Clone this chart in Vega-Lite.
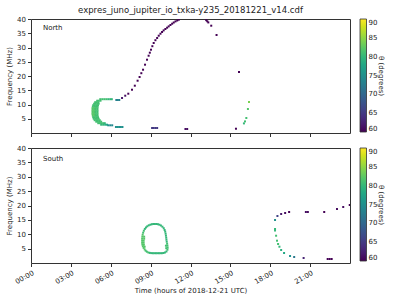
{
  "$schema": "https://vega.github.io/schema/vega-lite/v6.json",
  "padding": {"left": 5, "top": 5, "right": 5, "bottom": 2},
  "config": {
    "font": "DejaVu Sans",
    "view": {"stroke": "#333", "strokeWidth": 1},
    "axis": {"labelFont": "DejaVu Sans", "titleFont": "DejaVu Sans", "labelFontSize": 7, "titleFontSize": 7, "titleFontWeight": "normal", "labelColor": "#222", "titleColor": "#222", "tickColor": "#333", "tickSize": 3.5, "grid": false, "domain": false, "labelPadding": 2, "titlePadding": 4, "labelOverlap": false},
    "legend": {"gradientLength": 113, "gradientThickness": 6.5, "labelFontSize": 7, "titleFontSize": 7, "titleFontWeight": "normal", "labelColor": "#222", "titleColor": "#222", "offset": 10, "labelOffset": 4, "labelOverlap": false, "gradientStrokeColor": "#333", "gradientStrokeWidth": 0.8, "titleOrient": "right", "titleAngle": 270, "titlePadding": 4, "titleAnchor": "middle", "titleBaseline": "middle"}
  },
  "datasets": {
    "north": [
      {"t": 5.21, "f": 11.86, "theta": 81}, {"t": 5.36, "f": 11.86, "theta": 81}, {"t": 5.51, "f": 11.86, "theta": 81}, {"t": 5.66, "f": 11.86, "theta": 81}, {"t": 5.81, "f": 11.86, "theta": 80}, {"t": 5.96, "f": 11.86, "theta": 80}, {"t": 6.08, "f": 11.86, "theta": 80},
      {"t": 4.98, "f": 11.33, "theta": 81}, {"t": 5.10, "f": 11.33, "theta": 81}, {"t": 5.23, "f": 11.33, "theta": 81},
      {"t": 4.83, "f": 10.81, "theta": 81}, {"t": 4.95, "f": 10.81, "theta": 81}, {"t": 5.07, "f": 10.81, "theta": 81},
      {"t": 4.75, "f": 10.28, "theta": 81}, {"t": 4.87, "f": 10.28, "theta": 81}, {"t": 4.99, "f": 10.28, "theta": 81}, {"t": 5.09, "f": 10.28, "theta": 81},
      {"t": 4.68, "f": 9.75, "theta": 81}, {"t": 4.80, "f": 9.75, "theta": 81}, {"t": 4.92, "f": 9.75, "theta": 81}, {"t": 5.04, "f": 9.75, "theta": 81},
      {"t": 4.65, "f": 9.23, "theta": 81}, {"t": 4.77, "f": 9.23, "theta": 81}, {"t": 4.89, "f": 9.23, "theta": 81}, {"t": 5.01, "f": 9.23, "theta": 81},
      {"t": 4.63, "f": 8.70, "theta": 82}, {"t": 4.75, "f": 8.70, "theta": 82}, {"t": 4.87, "f": 8.70, "theta": 81}, {"t": 5.00, "f": 8.70, "theta": 81},
      {"t": 4.63, "f": 8.18, "theta": 82}, {"t": 4.75, "f": 8.18, "theta": 82}, {"t": 4.87, "f": 8.18, "theta": 81}, {"t": 5.00, "f": 8.18, "theta": 81},
      {"t": 4.63, "f": 7.65, "theta": 82}, {"t": 4.75, "f": 7.65, "theta": 82}, {"t": 4.87, "f": 7.65, "theta": 81}, {"t": 5.00, "f": 7.65, "theta": 81},
      {"t": 4.63, "f": 7.12, "theta": 82}, {"t": 4.75, "f": 7.12, "theta": 82}, {"t": 4.87, "f": 7.12, "theta": 81}, {"t": 5.00, "f": 7.12, "theta": 81},
      {"t": 4.63, "f": 6.60, "theta": 82}, {"t": 4.75, "f": 6.60, "theta": 82}, {"t": 4.87, "f": 6.60, "theta": 81}, {"t": 5.00, "f": 6.60, "theta": 81},
      {"t": 4.65, "f": 6.07, "theta": 82}, {"t": 4.77, "f": 6.07, "theta": 82}, {"t": 4.89, "f": 6.07, "theta": 81}, {"t": 5.01, "f": 6.07, "theta": 81},
      {"t": 4.68, "f": 5.54, "theta": 81}, {"t": 4.80, "f": 5.54, "theta": 81}, {"t": 4.92, "f": 5.54, "theta": 81}, {"t": 5.04, "f": 5.54, "theta": 81},
      {"t": 4.72, "f": 5.02, "theta": 81}, {"t": 4.84, "f": 5.02, "theta": 81}, {"t": 4.96, "f": 5.02, "theta": 81}, {"t": 5.09, "f": 5.02, "theta": 81},
      {"t": 4.79, "f": 4.49, "theta": 81}, {"t": 4.91, "f": 4.49, "theta": 81}, {"t": 5.03, "f": 4.49, "theta": 81}, {"t": 5.17, "f": 4.49, "theta": 81},
      {"t": 4.91, "f": 3.97, "theta": 81}, {"t": 5.03, "f": 3.97, "theta": 81}, {"t": 5.15, "f": 3.97, "theta": 81}, {"t": 5.28, "f": 3.97, "theta": 81},
      {"t": 5.06, "f": 3.44, "theta": 81}, {"t": 5.18, "f": 3.44, "theta": 81}, {"t": 5.30, "f": 3.44, "theta": 81}, {"t": 5.43, "f": 3.44, "theta": 81}, {"t": 5.55, "f": 3.44, "theta": 80},
      {"t": 5.28, "f": 2.91, "theta": 80}, {"t": 5.43, "f": 2.91, "theta": 80}, {"t": 5.58, "f": 2.91, "theta": 79}, {"t": 5.72, "f": 2.91, "theta": 78},
      {"t": 5.81, "f": 2.70, "theta": 75}, {"t": 5.96, "f": 2.70, "theta": 74}, {"t": 6.11, "f": 2.70, "theta": 74},
      {"t": 6.42, "f": 11.58, "theta": 73}, {"t": 6.53, "f": 11.58, "theta": 73}, {"t": 6.64, "f": 11.58, "theta": 73},
      {"t": 6.39, "f": 2.11, "theta": 75}, {"t": 6.51, "f": 2.11, "theta": 75}, {"t": 6.63, "f": 2.11, "theta": 75}, {"t": 6.76, "f": 2.11, "theta": 75}, {"t": 6.88, "f": 2.11, "theta": 75},
      {"t": 6.85, "f": 12.28, "theta": 62}, {"t": 7.09, "f": 13.09, "theta": 61}, {"t": 7.32, "f": 13.79, "theta": 60}, {"t": 7.60, "f": 15.19, "theta": 60}, {"t": 7.81, "f": 16.60, "theta": 60},
      {"t": 8.02, "f": 18.35, "theta": 60}, {"t": 8.17, "f": 19.65, "theta": 60}, {"t": 8.30, "f": 20.98, "theta": 60}, {"t": 8.43, "f": 22.21, "theta": 60}, {"t": 8.58, "f": 23.97, "theta": 60},
      {"t": 8.73, "f": 25.72, "theta": 60}, {"t": 8.85, "f": 27.12, "theta": 60}, {"t": 8.94, "f": 28.18, "theta": 60}, {"t": 9.03, "f": 29.23, "theta": 60}, {"t": 9.13, "f": 30.46, "theta": 60},
      {"t": 9.23, "f": 31.58, "theta": 60}, {"t": 9.36, "f": 32.56, "theta": 60}, {"t": 9.49, "f": 33.34, "theta": 60}, {"t": 9.61, "f": 34.14, "theta": 60}, {"t": 9.74, "f": 34.84, "theta": 60},
      {"t": 9.86, "f": 35.44, "theta": 60}, {"t": 9.98, "f": 36.00, "theta": 60}, {"t": 10.11, "f": 36.49, "theta": 60}, {"t": 10.24, "f": 36.95, "theta": 60}, {"t": 10.36, "f": 37.41, "theta": 60},
      {"t": 10.49, "f": 37.90, "theta": 60}, {"t": 10.62, "f": 38.35, "theta": 60}, {"t": 10.74, "f": 38.77, "theta": 60}, {"t": 10.87, "f": 39.16, "theta": 60}, {"t": 11.00, "f": 39.48, "theta": 60},
      {"t": 11.12, "f": 39.76, "theta": 60},
      {"t": 13.18, "f": 39.60, "theta": 60}, {"t": 13.26, "f": 39.20, "theta": 60}, {"t": 13.34, "f": 38.80, "theta": 60}, {"t": 13.56, "f": 37.65, "theta": 60}, {"t": 13.96, "f": 34.39, "theta": 60}, {"t": 15.65, "f": 21.40, "theta": 60},
      {"t": 9.11, "f": 1.75, "theta": 65}, {"t": 9.23, "f": 1.75, "theta": 65}, {"t": 9.36, "f": 1.75, "theta": 65}, {"t": 9.49, "f": 1.75, "theta": 65},
      {"t": 11.62, "f": 1.40, "theta": 61}, {"t": 11.75, "f": 1.40, "theta": 61}, {"t": 15.42, "f": 1.50, "theta": 60},
      {"t": 16.40, "f": 10.88, "theta": 84}, {"t": 16.32, "f": 8.42, "theta": 82}, {"t": 16.20, "f": 5.26, "theta": 81}, {"t": 16.10, "f": 4.07, "theta": 81}, {"t": 16.02, "f": 3.37, "theta": 80}
    ],
    "south": [
      {"t": 8.981, "f": 13.32, "theta": 80}, {"t": 9.094, "f": 13.49, "theta": 80}, {"t": 9.208, "f": 13.56, "theta": 80}, {"t": 9.321, "f": 13.56, "theta": 80}, {"t": 9.434, "f": 13.56, "theta": 80},
      {"t": 9.547, "f": 13.49, "theta": 80}, {"t": 9.660, "f": 13.32, "theta": 80}, {"t": 9.774, "f": 13.04, "theta": 80}, {"t": 9.887, "f": 12.63, "theta": 80}, {"t": 9.985, "f": 12.10, "theta": 80},
      {"t": 10.053, "f": 11.48, "theta": 80}, {"t": 10.098, "f": 10.89, "theta": 80}, {"t": 10.128, "f": 10.19, "theta": 80}, {"t": 10.151, "f": 9.50, "theta": 80}, {"t": 10.174, "f": 8.80, "theta": 80},
      {"t": 10.189, "f": 8.10, "theta": 80}, {"t": 10.211, "f": 7.41, "theta": 80}, {"t": 10.242, "f": 6.71, "theta": 81}, {"t": 10.264, "f": 6.02, "theta": 81}, {"t": 10.279, "f": 5.32, "theta": 81},
      {"t": 10.151, "f": 6.02, "theta": 81}, {"t": 10.174, "f": 5.15, "theta": 81},
      {"t": 10.264, "f": 4.63, "theta": 81}, {"t": 10.189, "f": 4.00, "theta": 80}, {"t": 10.075, "f": 3.65, "theta": 80}, {"t": 9.962, "f": 3.48, "theta": 80}, {"t": 9.849, "f": 3.41, "theta": 80},
      {"t": 9.736, "f": 3.41, "theta": 80}, {"t": 9.623, "f": 3.41, "theta": 80}, {"t": 9.509, "f": 3.41, "theta": 80}, {"t": 9.396, "f": 3.41, "theta": 80}, {"t": 9.283, "f": 3.41, "theta": 80},
      {"t": 9.170, "f": 3.41, "theta": 80}, {"t": 9.057, "f": 3.44, "theta": 80}, {"t": 8.943, "f": 3.51, "theta": 80}, {"t": 8.830, "f": 3.65, "theta": 81}, {"t": 8.717, "f": 3.93, "theta": 81},
      {"t": 8.626, "f": 4.28, "theta": 81}, {"t": 8.551, "f": 4.73, "theta": 82}, {"t": 8.475, "f": 5.25, "theta": 82}, {"t": 8.415, "f": 5.84, "theta": 82}, {"t": 8.377, "f": 6.43, "theta": 82},
      {"t": 8.362, "f": 7.06, "theta": 82}, {"t": 8.362, "f": 7.76, "theta": 82}, {"t": 8.362, "f": 8.45, "theta": 82}, {"t": 8.377, "f": 9.15, "theta": 82}, {"t": 8.400, "f": 9.84, "theta": 82},
      {"t": 8.438, "f": 10.54, "theta": 81}, {"t": 8.491, "f": 11.23, "theta": 81}, {"t": 8.566, "f": 11.86, "theta": 80}, {"t": 8.649, "f": 12.35, "theta": 80}, {"t": 8.747, "f": 12.76, "theta": 80},
      {"t": 8.860, "f": 13.11, "theta": 80},
      {"t": 8.475, "f": 7.76, "theta": 82}, {"t": 8.475, "f": 7.06, "theta": 82}, {"t": 8.491, "f": 6.36, "theta": 82}, {"t": 8.513, "f": 8.45, "theta": 82}, {"t": 8.551, "f": 5.67, "theta": 82}, {"t": 8.513, "f": 9.15, "theta": 82},
      {"t": 18.36, "f": 14.96, "theta": 75}, {"t": 18.36, "f": 11.83, "theta": 80}, {"t": 18.36, "f": 11.30, "theta": 80}, {"t": 18.44, "f": 9.49, "theta": 81}, {"t": 18.51, "f": 7.76, "theta": 81},
      {"t": 18.59, "f": 6.61, "theta": 81}, {"t": 18.69, "f": 5.67, "theta": 80}, {"t": 18.82, "f": 4.52, "theta": 79}, {"t": 19.04, "f": 3.48, "theta": 78}, {"t": 19.49, "f": 2.43, "theta": 75},
      {"t": 19.80, "f": 2.09, "theta": 72}, {"t": 20.51, "f": 1.74, "theta": 63},
      {"t": 22.32, "f": 1.39, "theta": 60}, {"t": 22.47, "f": 1.39, "theta": 60}, {"t": 22.62, "f": 1.39, "theta": 60},
      {"t": 18.54, "f": 16.35, "theta": 66}, {"t": 18.82, "f": 17.04, "theta": 62}, {"t": 19.12, "f": 17.39, "theta": 61}, {"t": 19.42, "f": 17.74, "theta": 60},
      {"t": 20.68, "f": 17.74, "theta": 61}, {"t": 20.83, "f": 17.74, "theta": 61}, {"t": 22.06, "f": 17.74, "theta": 60}, {"t": 23.02, "f": 18.78, "theta": 61},
      {"t": 23.49, "f": 19.48, "theta": 61}, {"t": 23.98, "f": 20.17, "theta": 60}
    ],
    "northLabel": [{"label": "North", "t": 0.9, "f": 36.8}],
    "southLabel": [{"label": "South", "t": 0.9, "f": 36.2}]
  },
  "vconcat": [
    {
      "title": {"text": "expres_juno_jupiter_io_txka-y235_20181221_v14.cdf", "fontSize": 8.5, "fontWeight": "normal", "color": "#222", "frame": "group", "anchor": "middle", "offset": 1},
      "width": 319,
      "height": 114,
      "encoding": {
        "x": {"field": "t", "type": "quantitative", "scale": {"domain": [0, 24], "nice": false, "zero": false}, "axis": {"values": [0, 3, 6, 9, 12, 15, 18, 21], "labels": false, "title": null}},
        "y": {"field": "f", "type": "quantitative", "scale": {"domain": [0, 40], "nice": false, "zero": false}, "axis": {"values": [5, 10, 15, 20, 25, 30, 35, 40], "labelOverlap": false, "title": "Frequency (MHz)"}}
      },
      "layer": [
        {
          "data": {"name": "north"},
          "mark": {"type": "point", "shape": "square", "filled": true, "size": 4, "strokeWidth": 0, "opacity": 1, "clip": true},
          "encoding": {
            "color": {"field": "theta", "type": "quantitative", "scale": {"scheme": "viridis", "domain": [60, 90]}, "legend": {"title": "θ (degrees)", "values": [60, 65, 70, 75, 80, 85, 90]}}
          }
        },
        {
          "data": {"name": "northLabel"},
          "mark": {"type": "text", "align": "left", "baseline": "middle", "fontSize": 7, "color": "#222"},
          "encoding": {"text": {"field": "label"}}
        }
      ]
    },
    {
      "width": 319,
      "height": 115,
      "encoding": {
        "x": {"field": "t", "type": "quantitative", "scale": {"domain": [0, 24], "nice": false, "zero": false}, "axis": {"values": [0, 3, 6, 9, 12, 15, 18, 21], "labelExpr": "(datum.value < 10 ? '0' : '') + datum.value + ':00'", "labelAngle": -30, "labelAlign": "right", "labelBaseline": "top", "title": "Time (hours of 2018-12-21 UTC)", "titlePadding": 2}},
        "y": {"field": "f", "type": "quantitative", "scale": {"domain": [0, 40], "nice": false, "zero": false}, "axis": {"values": [5, 10, 15, 20, 25, 30, 35, 40], "labelOverlap": false, "title": "Frequency (MHz)"}}
      },
      "layer": [
        {
          "data": {"name": "south"},
          "mark": {"type": "point", "shape": "square", "filled": true, "size": 4, "strokeWidth": 0, "opacity": 1, "clip": true},
          "encoding": {
            "color": {"field": "theta", "type": "quantitative", "scale": {"scheme": "viridis", "domain": [60, 90]}, "legend": {"title": "θ (degrees)", "values": [60, 65, 70, 75, 80, 85, 90]}}
          }
        },
        {
          "data": {"name": "southLabel"},
          "mark": {"type": "text", "align": "left", "baseline": "middle", "fontSize": 7, "color": "#222"},
          "encoding": {"text": {"field": "label"}}
        }
      ]
    }
  ],
  "spacing": 5,
  "resolve": {"scale": {"color": "independent"}}
}
